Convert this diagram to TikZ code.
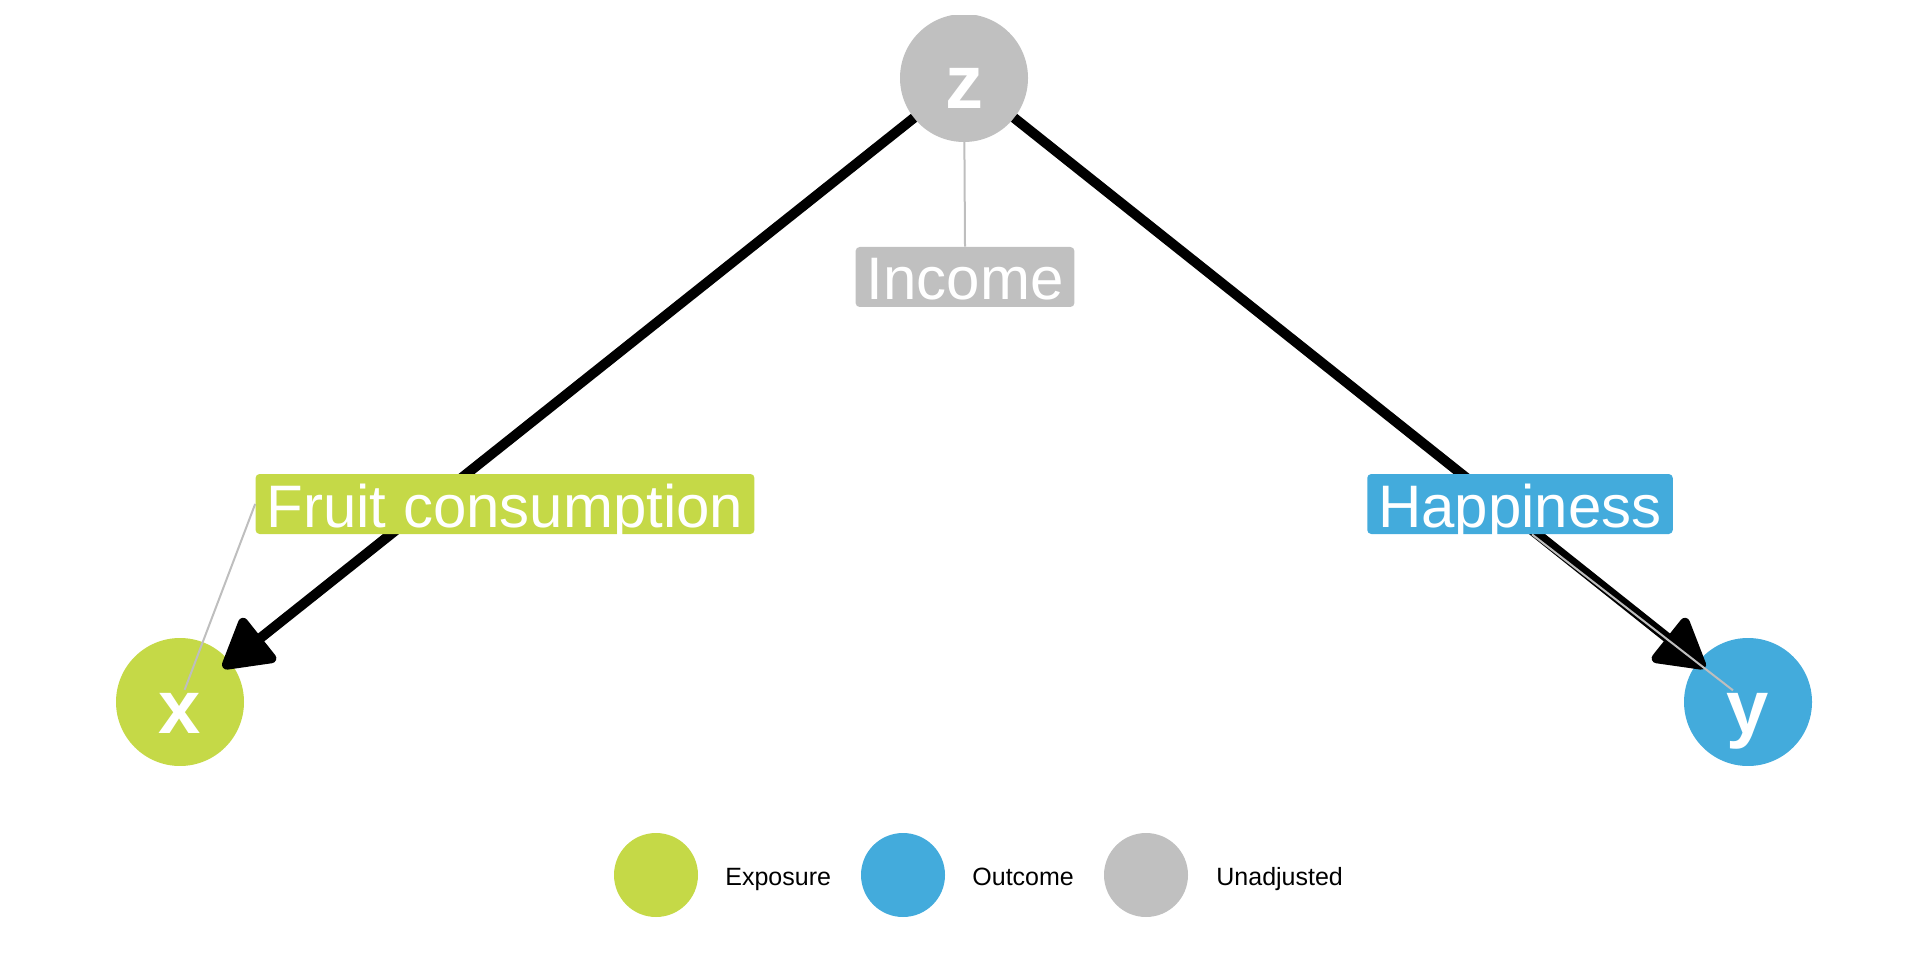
\documentclass[tikz,border=0pt]{standalone}
\usepackage{fontspec}
\setmainfont{Liberation Sans}
\usetikzlibrary{arrows.meta}

\definecolor{exposure}{RGB}{197,217,71}
\definecolor{outcome}{RGB}{67,171,220}
\definecolor{unadjusted}{RGB}{192,192,192}
\definecolor{segment}{RGB}{190,190,190}

\begin{document}
\begin{tikzpicture}[x=0.5pt, y=0.5pt,
  var/.style={circle, minimum size=64pt, inner sep=0pt, outer sep=0pt, text=white,
    font=\fontsize{38}{40}\selectfont\bfseries, text height=32pt, text depth=1pt},
  lab/.style={rounded corners=2pt, text=white, font=\fontsize{30}{36}\selectfont,
    inner xsep=5.5pt, inner ysep=0pt, text height=26.5pt, text depth=3.5pt},
  causal/.style={line width=5pt, -{Triangle[length=27pt,width=30pt,round]}, shorten >=-4.5pt},
  repel/.style={segment, line width=1pt},
  key/.style={circle, minimum size=42pt, inner sep=0pt},
  keytext/.style={anchor=base west, inner sep=0pt, font=\fontsize{12.5}{15}\selectfont}]
\useasboundingbox (0,0) rectangle (1920,960);
\coordinate (px) at (180,258);
\coordinate (py) at (1748,258);
\coordinate (pz) at (964,882);
% variables
\begin{scope}
\clip (0,195) rectangle (1920,944);
\node[var, fill=exposure] (x) at (px) {x};
\node[var, fill=outcome] (y) at (py) {y};
\node[var, fill=unadjusted] (z) at (pz) {z};
\end{scope}
% edges
\draw[causal] (z) -- (x);
\draw[causal] (z) -- (y);
% labels
\node[lab, fill=unadjusted] (income) at (965,683) {Income};
\node[lab, fill=exposure] (fruit) at (505,456) {Fruit consumption};
\node[lab, fill=outcome] (happy) at (1520,456) {Happiness};
\draw[repel] (z) -- (income.north);
\draw[repel, shorten <=6.5pt] (x.center) -- (fruit.west);
\draw[repel, shorten <=9.5pt] (y.center) -- ([xshift=6pt]happy.south);
% legend
\node[key, fill=exposure] (kexp) at (656,85) {};
\node[keytext] (texp) at (725,75) {Exposure};
\node[key, fill=outcome] (kout) at (903,85) {};
\node[keytext] (tout) at (972,75) {Outcome};
\node[key, fill=unadjusted] (kun) at (1146,85) {};
\node[keytext] (tun) at (1216,75) {Unadjusted};
\end{tikzpicture}
\end{document}
